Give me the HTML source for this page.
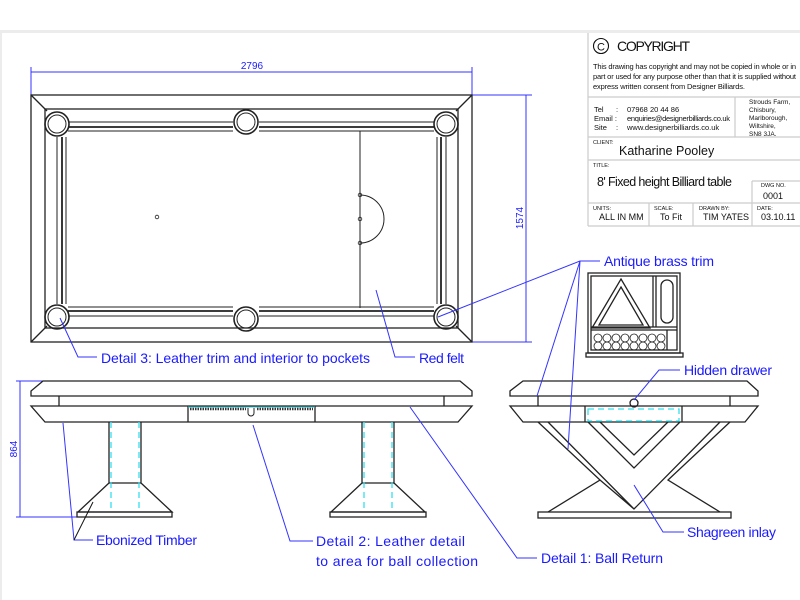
<!DOCTYPE html>
<html><head><meta charset="utf-8"><style>
html,body{margin:0;padding:0;background:#fff;}
svg{display:block;}
text{font-family:"Liberation Sans",sans-serif;}
.b{fill:#1a1aff;font-size:14px;}
.d{fill:#1a1aff;font-size:10px;}
.k{stroke:#222;fill:none;stroke-width:1.3;}
.l{stroke:#3333ff;fill:none;stroke-width:1;}
.c{stroke:#33e0ee;fill:none;stroke-width:1.3;stroke-dasharray:6,4;}
.t{fill:#111;}
</style></head><body>
<svg width="800" height="600" viewBox="0 0 800 600" xmlns="http://www.w3.org/2000/svg">
<rect x="0" y="0" width="800" height="600" fill="#fff"/>
<rect x="0" y="30" width="800" height="3" fill="#ececec"/>
<rect x="0" y="30" width="2" height="570" fill="#ececec"/>

<!-- dimensions -->
<g class="l" stroke="#2222ff">
<line x1="31" y1="67" x2="31" y2="95"/><line x1="31" y1="72" x2="472" y2="72"/><line x1="472" y1="67" x2="472" y2="95"/>
<line x1="472" y1="95" x2="532" y2="95"/><line x1="472" y1="342" x2="532" y2="342"/><line x1="526" y1="95" x2="526" y2="342"/>
<line x1="16" y1="381" x2="43" y2="381"/><line x1="16" y1="517" x2="77" y2="517"/><line x1="20" y1="381" x2="20" y2="517"/>
</g>
<text x="252" y="69" class="d" text-anchor="middle">2796</text>
<text transform="translate(523,218) rotate(-90)" class="d" text-anchor="middle">1574</text>
<text transform="translate(17,449) rotate(-90)" class="d" text-anchor="middle">864</text>

<!-- top view -->
<g class="k">
<rect x="31" y="95" width="441" height="247"/>
<rect x="45" y="109" width="413" height="219"/>
<line x1="31" y1="95" x2="47" y2="111"/><line x1="472" y1="95" x2="456" y2="111"/>
<line x1="31" y1="342" x2="47" y2="326"/><line x1="472" y1="342" x2="456" y2="326"/>
<path d="M68,122 H233 M259,122 H434 M68,316 H233 M259,316 H434 M57,137 V304 M446,137 V304" stroke-width="1"/>
<path d="M68,127 H233 M259,127 H434 M68,311 H233 M259,311 H434 M62,137 V304 M441,137 V304" stroke-width="1.8"/>
<path d="M68,131 H233 M259,131 H434 M68,307 H233 M259,307 H434 M66,137 V304 M437,137 V304" stroke-width="1"/>
<circle cx="57" cy="124" r="12" stroke-width="1.6"/><circle cx="57" cy="124" r="9" stroke-width="1"/>
<circle cx="246" cy="122" r="12" stroke-width="1.6"/><circle cx="246" cy="122" r="9" stroke-width="1"/>
<circle cx="446" cy="124" r="12" stroke-width="1.6"/><circle cx="446" cy="124" r="9" stroke-width="1"/>
<circle cx="57" cy="317" r="12" stroke-width="1.6"/><circle cx="57" cy="317" r="9" stroke-width="1"/>
<circle cx="246" cy="319" r="12" stroke-width="1.6"/><circle cx="246" cy="319" r="9" stroke-width="1"/>
<circle cx="446" cy="317" r="12" stroke-width="1.6"/><circle cx="446" cy="317" r="9" stroke-width="1"/>
<line x1="360" y1="131" x2="360" y2="308" stroke-width="1"/>
<path d="M360,195 A24,24 0 0 1 360,243" stroke-width="1"/>
<circle cx="360" cy="195" r="1.8" stroke-width="0.8"/><circle cx="360" cy="219" r="1.8" stroke-width="0.8"/><circle cx="360" cy="243" r="1.8" stroke-width="0.8"/>
<circle cx="157" cy="217" r="1.8" stroke-width="0.8"/>
</g>

<!-- side view -->
<g class="k">
<polygon points="43,381 460,381 472,391 472,396 31,396 31,391"/>
<line x1="59" y1="396" x2="59" y2="406"/><line x1="444" y1="396" x2="444" y2="406"/>
<polygon points="31,406 472,406 458,422 45,422"/>
<line x1="188" y1="406" x2="188" y2="422"/><line x1="315" y1="406" x2="315" y2="422"/>
<path d="M248,408 V413 A3,3 0 0 0 254,413 V408" stroke-width="1"/>
<path d="M109,422 V483 H141 V422 M109,483 L78,512 H172 L141,483"/>
<rect x="77" y="512" width="95" height="5"/>
<path d="M362,422 V483 H394 V422 M362,483 L331,512 H425 L394,483"/>
<rect x="330" y="512" width="96" height="5"/>
</g>
<line x1="190" y1="409" x2="246" y2="409" stroke="#333" stroke-width="2.5" stroke-dasharray="1.5,1"/>
<line x1="257" y1="409" x2="313" y2="409" stroke="#333" stroke-width="2.5" stroke-dasharray="1.5,1"/>
<line x1="188" y1="407" x2="315" y2="407" stroke="#33c0cc" stroke-width="1"/>
<g class="c"><line x1="111" y1="422" x2="111" y2="512"/><line x1="139" y1="422" x2="139" y2="512"/><line x1="364" y1="422" x2="364" y2="512"/><line x1="392" y1="422" x2="392" y2="512"/></g>

<!-- end view -->
<g class="k">
<polygon points="523,381 747,381 758,391 758,396 510,396 510,391"/>
<line x1="538" y1="396" x2="538" y2="406"/><line x1="730" y1="396" x2="730" y2="406"/>
<polygon points="510,406 758,406 745,422 523,422"/>
<line x1="585" y1="406" x2="585" y2="422"/><line x1="682" y1="406" x2="682" y2="422"/>
<circle cx="634" cy="403" r="4"/>
<path d="M538,422 L600,480 L548,512 M548,422 L634,509 L720,422 M588,422 L634,468 L680,422 M600,422 L634,455 L668,422 M730,422 L668,480 L720,512 M600,480 L634,509"/>
<rect x="538" y="512" width="193" height="6"/>
</g>
<rect x="588" y="409" width="91" height="12" class="c"/>

<!-- drawer inset -->
<g class="k" stroke-width="1.1">
<rect x="588" y="273" width="92" height="80"/>
<rect x="591" y="276" width="86" height="74"/>
<line x1="653" y1="276" x2="653" y2="327"/><line x1="656" y1="276" x2="656" y2="327"/>
<line x1="591" y1="327" x2="677" y2="327"/><line x1="591" y1="330" x2="677" y2="330"/>
<line x1="667" y1="330" x2="667" y2="350"/>
<rect x="661" y="280" width="12" height="43" rx="6"/>
<polygon points="621,279 650,328 592,328"/><polygon points="621,287 643,325 599,325"/>
<rect x="586" y="353" width="97" height="4"/>
<g stroke-width="0.8">
<circle cx="598" cy="338" r="4"/><circle cx="607" cy="338" r="4"/><circle cx="616" cy="338" r="4"/><circle cx="625" cy="338" r="4"/><circle cx="634" cy="338" r="4"/><circle cx="643" cy="338" r="4"/><circle cx="652" cy="338" r="4"/><circle cx="661" cy="338" r="4"/>
<circle cx="598" cy="346" r="4"/><circle cx="607" cy="346" r="4"/><circle cx="616" cy="346" r="4"/><circle cx="625" cy="346" r="4"/><circle cx="634" cy="346" r="4"/><circle cx="643" cy="346" r="4"/><circle cx="652" cy="346" r="4"/><circle cx="661" cy="346" r="4"/>
</g>
</g>

<!-- leaders -->
<g class="l">
<path d="M60,318 L78,357 H97"/>
<path d="M376,290 L395,357 H415"/>
<path d="M600,261 H580 L438,317 M580,261 L537,396 M580,261 L568,449"/>
<path d="M680,370 H659 L634,400"/>
<path d="M684,532 H663 L634,485"/>
<path d="M93,540 H74 L63,423"/>
<path d="M313,541 H290 L253,425"/>
<path d="M537,558 H517 L410,407"/>
</g>
<line x1="74" y1="540" x2="93" y2="502" stroke="#111" stroke-width="1"/>

<!-- labels -->
<text x="101" y="363" class="b" textLength="269">Detail 3: Leather trim and interior to pockets</text>
<text x="419" y="363" class="b" textLength="45">Red felt</text>
<text x="604" y="266" class="b" textLength="110">Antique brass trim</text>
<text x="684" y="375" class="b" textLength="88">Hidden drawer</text>
<text x="687" y="537" class="b" textLength="89">Shagreen inlay</text>
<text x="96" y="545" class="b" textLength="101">Ebonized Timber</text>
<text x="316" y="546" class="b" textLength="149">Detail 2: Leather detail</text>
<text x="316" y="566" class="b" textLength="162">to area for ball collection</text>
<text x="541" y="563" class="b" textLength="122">Detail 1: Ball Return</text>

<!-- title block -->
<g stroke="#ccc" stroke-width="1.2" fill="none">
<line x1="588" y1="33" x2="588" y2="226"/>
<line x1="588" y1="97" x2="800" y2="97"/>
<line x1="735" y1="97" x2="735" y2="137"/>
<line x1="588" y1="137" x2="800" y2="137"/>
<line x1="588" y1="160" x2="800" y2="160"/>
<line x1="588" y1="203" x2="800" y2="203"/>
<line x1="752" y1="181" x2="752" y2="203"/><line x1="752" y1="181" x2="800" y2="181"/>
<line x1="649" y1="203" x2="649" y2="226"/><line x1="693" y1="203" x2="693" y2="226"/><line x1="752" y1="203" x2="752" y2="226"/>
<line x1="588" y1="226" x2="800" y2="226"/>
</g>
<circle cx="601" cy="46" r="7.5" fill="none" stroke="#111" stroke-width="1.1"/>
<text x="601" y="50.5" class="t" font-size="11" text-anchor="middle">C</text>
<text x="617" y="51" class="t" font-size="14" textLength="73">COPYRIGHT</text>
<g class="t" font-size="7.5">
<text x="593" y="69" textLength="203">This drawing has copyright and may not be copied in whole or in</text>
<text x="593" y="79" textLength="203">part or used for any purpose other than that it is supplied without</text>
<text x="593" y="89" textLength="152">express written consent from Designer Billiards.</text>
<text x="594" y="112">Tel</text><text x="616" y="112">:</text><text x="627" y="112">07968 20 44 86</text>
<text x="594" y="121">Email :</text><text x="627" y="121" textLength="103">enquiries@designerbilliards.co.uk</text>
<text x="594" y="130">Site</text><text x="616" y="130">:</text><text x="627" y="130">www.designerbilliards.co.uk</text>
</g>
<g class="t" font-size="6.5">
<text x="749" y="104">Strouds Farm,</text><text x="749" y="112">Chisbury,</text><text x="749" y="120">Marlborough,</text><text x="749" y="128">Wiltshire,</text><text x="749" y="136">SN8 3JA.</text>
<text x="593" y="144" font-size="5.5">CLIENT:</text>
<text x="593" y="167" font-size="5.5">TITLE:</text>
<text x="761" y="187" font-size="5.5">DWG NO.</text>
<text x="593" y="210" font-size="5.5">UNITS:</text><text x="654" y="210" font-size="5.5">SCALE:</text><text x="699" y="210" font-size="5.5">DRAWN BY:</text><text x="757" y="210" font-size="5.5">DATE:</text>
</g>
<text x="619" y="155" class="t" font-size="12.5">Katharine Pooley</text>
<text x="597" y="186" class="t" font-size="12.5" textLength="135">8' Fixed height Billiard table</text>
<text x="763" y="199" class="t" font-size="9">0001</text>
<text x="599" y="220" class="t" font-size="9">ALL IN MM</text>
<text x="660" y="220" class="t" font-size="9">To Fit</text>
<text x="703" y="220" class="t" font-size="9">TIM YATES</text>
<text x="761" y="220" class="t" font-size="9">03.10.11</text>
</svg>
</body></html>
